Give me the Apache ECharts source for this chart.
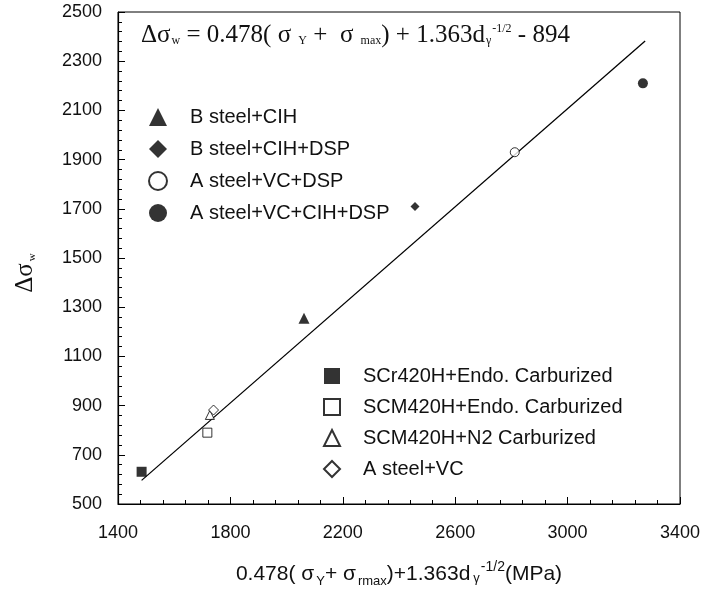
<!DOCTYPE html>
<html>
<head>
<meta charset="utf-8">
<script src="https://cdn.jsdelivr.net/npm/echarts@6/dist/echarts.min.js"></script>
<style>
  html, body { margin: 0; padding: 0; background: #fff; }
  #chart { width: 702px; height: 589px; }
</style>
</head>
<body>
<div id="chart"></div>
<script>
// x = 0.478(σY+σmax)+1.363dγ^-1/2, y = Δσw
const xTicks = [1400, 1800, 2200, 2600, 3000, 3400];
const yTicks = [500, 700, 900, 1100, 1300, 1500, 1700, 1900, 2100, 2300, 2500];

const groupA = ['B steel+CIH', 'B steel+CIH+DSP', 'A steel+VC+DSP', 'A steel+VC+CIH+DSP'];
const groupB = ['SCr420H+Endo. Carburized', 'SCM420H+Endo. Carburized', 'SCM420H+N2 Carburized', 'A steel+VC'];

const bCihX = [2062];
const bCihY = [1255];
const bCihDspX = [2457];
const bCihDspY = [1709];
const aVcDspX = [2812];
const aVcDspY = [1930];
const aVcCihDspX = [3268];
const aVcCihDspY = [2210];

const scrEndoX = [1484];
const scrEndoY = [631];
const scmEndoX = [1718];
const scmEndoY = [790];
const scmN2X = [1727];
const scmN2Y = [862];
const aVcX = [1740];
const aVcY = [882];

const fitX = [1484, 3276];
const fitY = [596, 2382];

const pairs = (xs, ys) => xs.map((x, i) => [x, ys[i]]);

const filled = { color: '#000' };
const hollow = { color: '#fff', borderColor: '#000', borderWidth: 1 };

function scatter(name, xs, ys, symbol, size, style) {
    return {
        name: name,
        type: 'scatter',
        symbol: symbol,
        symbolSize: size,
        itemStyle: style,
        data: pairs(xs, ys),
        z: 3
    };
}

let chart = echarts.init(document.getElementById('chart'));

const serif = 'Liberation Serif, Times New Roman, serif';
const sans = 'Liberation Sans, Arial, sans-serif';

const legendText = {
    fontFamily: sans,
    fontSize: 20,
    color: '#111',
    lineHeight: 20,
    padding: [0, 0, 0, 18]
};

let option = {
    backgroundColor: '#fff',
    animation: false,
    title: {
        left: 136,
        top: 16,
        text: '{t|Δσ}{s|w}{t| = 0.478( σ }{s|Y}{t| +  σ }{s|max}{t|) + 1.363d}{s|γ}{p|-1/2}{t| - 894}',
        textStyle: {
            fontWeight: 'normal',
            rich: {
                t: { fontFamily: serif, fontWeight: 'normal', fontSize: 25, color: '#111', lineHeight: 28 },
                s: { fontFamily: serif, fontWeight: 'normal', fontSize: 12, color: '#111', lineHeight: 28, verticalAlign: 'bottom', padding: [0, 0, 2, 1] },
                p: { fontFamily: serif, fontWeight: 'normal', fontSize: 12, color: '#111', lineHeight: 28, verticalAlign: 'top', padding: [2, 0, 0, 1] }
            }
        }
    },
    legend: [{
        data: groupA,
        orient: 'vertical',
        left: 143,
        top: 102,
        itemWidth: 18,
        itemHeight: 18,
        itemGap: 12,
        textStyle: legendText
    }, {
        data: groupB,
        orient: 'vertical',
        left: 318,
        top: 361,
        itemWidth: 16,
        itemHeight: 16,
        itemGap: 11,
        textStyle: legendText
    }],
    grid: {
        left: 118,
        right: 22,
        top: 12,
        bottom: 85,
        outerBoundsMode: 'none',
        show: true,
        borderColor: '#000',
        borderWidth: 1
    },
    xAxis: {
        type: 'value',
        min: 1400,
        max: 3400,
        interval: 400,
        name: '0.478( σ{s|Y}+ σ{s|rmax})+1.363d{g|γ}{p|-1/2}(MPa)',
        nameLocation: 'middle',
        nameGap: 54,
        nameTextStyle: {
            fontFamily: sans,
            fontSize: 21,
            color: '#111',
            lineHeight: 32,
            rich: {
                s: { fontSize: 13, color: '#111', lineHeight: 32, verticalAlign: 'bottom', padding: [0, 0, 2, 2] },
                g: { fontSize: 13, color: '#111', lineHeight: 32, verticalAlign: 'bottom', padding: [0, 0, 5, 3] },
                p: { fontSize: 14, color: '#111', lineHeight: 32, verticalAlign: 'top', padding: [2, 0, 0, 1] }
            }
        },
        axisLine: { lineStyle: { color: '#000', width: 1.2 } },
        axisTick: { inside: true, length: 7, lineStyle: { color: '#000' } },
        minorTick: { show: true, splitNumber: 5, length: 4, lineStyle: { color: '#000' } },
        splitLine: { show: false },
        axisLabel: {
            margin: 20,
            fontFamily: sans,
            fontSize: 18,
            color: '#111',
            formatter: v => xTicks.indexOf(v) >= 0 ? String(v) : ''
        }
    },
    yAxis: {
        type: 'value',
        min: 500,
        max: 2500,
        interval: 200,
        name: '{t|Δσ}{s|w}',
        nameLocation: 'middle',
        nameRotate: 90,
        nameGap: 78,
        nameTextStyle: {
            padding: [0, 30, 0, 0],
            rich: {
                t: { fontFamily: serif, fontSize: 25, color: '#111', lineHeight: 30 },
                s: { fontFamily: serif, fontSize: 11, color: '#111', lineHeight: 30, verticalAlign: 'bottom', padding: [0, 0, 2, 2] }
            }
        },
        axisLine: { lineStyle: { color: '#000', width: 1.2 } },
        axisTick: { inside: true, length: 7, lineStyle: { color: '#000' } },
        minorTick: { show: true, splitNumber: 5, length: 4, lineStyle: { color: '#000' } },
        splitLine: { show: false },
        axisLabel: {
            margin: 16,
            fontFamily: sans,
            fontSize: 18,
            color: '#111',
            formatter: v => yTicks.indexOf(v) >= 0 ? String(v) : ''
        }
    },
    series: [
        {
            name: 'fit',
            type: 'line',
            data: pairs(fitX, fitY),
            symbol: 'none',
            lineStyle: { color: '#000', width: 1.3 },
            z: 2
        },
        scatter(groupA[0], bCihX, bCihY, 'triangle', 11, filled),
        scatter(groupA[1], bCihDspX, bCihDspY, 'diamond', 9, filled),
        scatter(groupA[2], aVcDspX, aVcDspY, 'circle', 9, hollow),
        scatter(groupA[3], aVcCihDspX, aVcCihDspY, 'circle', 10, filled),
        scatter(groupB[0], scrEndoX, scrEndoY, 'rect', 10, filled),
        scatter(groupB[1], scmEndoX, scmEndoY, 'rect', 9, hollow),
        scatter(groupB[2], scmN2X, scmN2Y, 'triangle', 9, hollow),
        scatter(groupB[3], aVcX, aVcY, 'diamond', 10, hollow)
    ]
};

chart.setOption(option);
</script>
</body>
</html>
